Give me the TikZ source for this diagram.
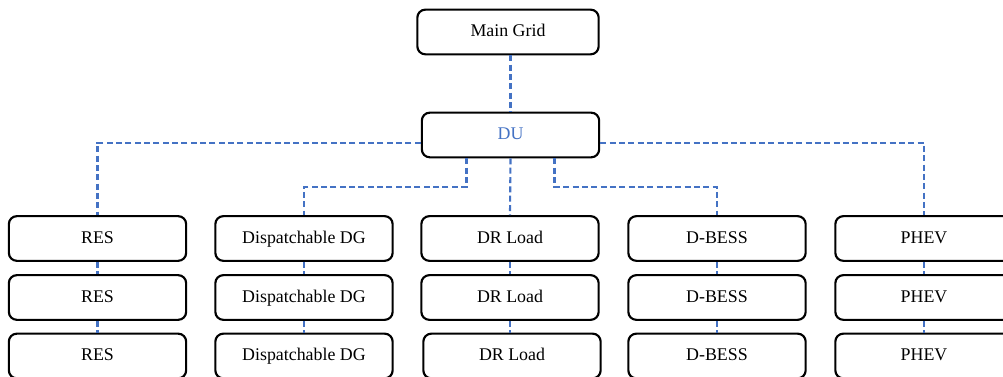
\documentclass[tikz,border=0pt]{standalone}
\usepackage{fontspec}
\setmainfont{Liberation Serif}
\definecolor{linkblue}{HTML}{4472C4}
\tikzset{
  unit/.style={draw=black, line width=1.6pt, rounded corners=6pt, fill=white,
    minimum width=133pt, minimum height=33.5pt, inner sep=0pt,
    text height=9.5pt, text depth=2.5pt, font=\fontsize{13.4}{15}\selectfont},
  link/.style={draw=linkblue, line width=1.6pt, dash pattern=on 4.5pt off 2.5pt},
}
\begin{document}
\begin{tikzpicture}[x=0.75pt,y=-0.75pt]
\useasboundingbox (0,0) rectangle (1003,377);
\clip (0,0) rectangle (1003,377);

% control level
\node[unit, minimum width=136pt] (grid) at (508,32) {Main Grid};
\node[unit, text=linkblue] (du) at (510.5,135) {DU};

% device columns, three units each
\foreach \name/\label/\x in {res/RES/97.5, dg/Dispatchable DG/304, dr/DR Load/510, bess/D-BESS/717, phev/PHEV/924}{
  \node[unit] (\name1) at (\x,238.5) {\label};
  \node[unit] (\name2) at (\x,297.5) {\label};
}
\node[unit] (res3) at (97.5,356) {RES};
\node[unit] (dg3) at (304,356) {Dispatchable DG};
\node[unit] (dr3) at (512,356) {DR Load};
\node[unit] (bess3) at (717,356) {D-BESS};
\node[unit] (phev3) at (924,356) {PHEV};

% junction heights of the inner feeders
\coordinate (jl) at (466.5,187);
\coordinate (jr) at (554.5,187);

% feeders
\draw[link] (grid.south -| du.north) -- (du.north);
\draw[link] ([yshift=-6pt]du.west) -| (res1.north);
\draw[link] ([yshift=-6pt]du.east) -| (phev1.north);
\draw[link] (du.south -| jl) -- (jl) -| (dg1.north);
\draw[link] (du.south -| jr) -- (jr) -| (bess1.north);
\draw[link] (du.south) -- (dr1.north);

% links inside each column
\foreach \name in {res,dg,dr,bess,phev}{
  \draw[link] (\name1.south) -- (\name2.north);
  \draw[link] (\name2.south) -- (\name2.south |- \name3.north);
}
\end{tikzpicture}
\end{document}
